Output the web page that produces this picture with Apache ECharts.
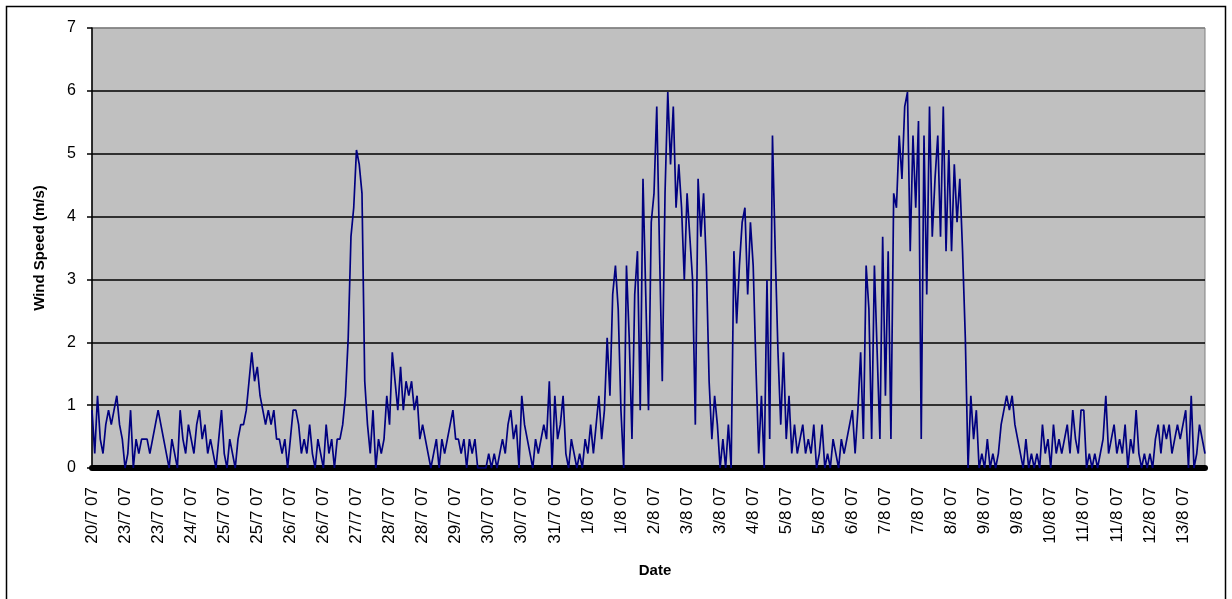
<!DOCTYPE html>
<html>
<head>
<meta charset="utf-8">
<script src="https://cdn.jsdelivr.net/npm/echarts@6/dist/echarts.min.js"></script>
<style>
html,body{margin:0;padding:0;background:#fff;}
#chart{width:1232px;height:599px;}
</style>
</head>
<body>
<div id="chart"></div>
<script>
// Tick labels shown on the category axis (one every 12 readings)
const tickLabels = ["20/7 07","23/7 07","23/7 07","24/7 07","25/7 07","25/7 07","26/7 07","26/7 07",
  "27/7 07","28/7 07","28/7 07","29/7 07","30/7 07","30/7 07","31/7 07","1/8 07","1/8 07","2/8 07",
  "3/8 07","3/8 07","4/8 07","5/8 07","5/8 07","6/8 07","7/8 07","7/8 07","8/8 07","9/8 07","9/8 07",
  "10/8 07","11/8 07","11/8 07","12/8 07","13/8 07"];
const readingsPerLabel = 12;

// Wind speed readings (m/s)
const windSpeed = [
 0.92,0.23,1.15,0.46,0.23,0.69,0.92,0.69,0.92,1.15,0.69,0.46,
 0,0.23,0.92,0,0.46,0.23,0.46,0.46,0.46,0.23,0.46,0.69,
 0.92,0.69,0.46,0.23,0,0.46,0.23,0,0.92,0.46,0.23,0.69,
 0.46,0.23,0.69,0.92,0.46,0.69,0.23,0.46,0.23,0,0.46,0.92,
 0.23,0,0.46,0.23,0,0.46,0.69,0.69,0.92,1.38,1.84,1.38,
 1.61,1.15,0.92,0.69,0.92,0.69,0.92,0.46,0.46,0.23,0.46,0,
 0.46,0.92,0.92,0.69,0.23,0.46,0.23,0.69,0.23,0,0.46,0.23,
 0,0.69,0.23,0.46,0,0.46,0.46,0.69,1.15,2.07,3.68,4.14,
 5.06,4.83,4.37,1.38,0.69,0.23,0.92,0,0.46,0.23,0.46,1.15,
 0.69,1.84,1.38,0.92,1.61,0.92,1.38,1.15,1.38,0.92,1.15,0.46,
 0.69,0.46,0.23,0,0.23,0.46,0,0.46,0.23,0.46,0.69,0.92,
 0.46,0.46,0.23,0.46,0,0.46,0.23,0.46,0,0,0,0,
 0.23,0,0.23,0,0.23,0.46,0.23,0.69,0.92,0.46,0.69,0,
 1.15,0.69,0.46,0.23,0,0.46,0.23,0.46,0.69,0.46,1.38,0,
 1.15,0.46,0.69,1.15,0.23,0,0.46,0.23,0,0.23,0,0.46,
 0.23,0.69,0.23,0.69,1.15,0.46,0.92,2.07,1.15,2.76,3.22,2.53,
 0.92,0,3.22,2.07,0.46,2.76,3.45,0.92,4.6,2.76,0.92,3.91,
 4.37,5.75,3.45,1.38,4.37,5.98,4.83,5.75,4.14,4.83,4.14,2.99,
 4.37,3.68,2.99,0.69,4.6,3.68,4.37,3.22,1.38,0.46,1.15,0.69,
 0,0.46,0,0.69,0,3.45,2.3,3.22,3.91,4.14,2.76,3.91,
 3.22,1.61,0.23,1.15,0,2.99,0.46,5.29,3.45,1.84,0.69,1.84,
 0.46,1.15,0.23,0.69,0.23,0.46,0.69,0.23,0.46,0.23,0.69,0,
 0.23,0.69,0,0.23,0,0.46,0.23,0,0.46,0.23,0.46,0.69,
 0.92,0.23,0.92,1.84,0.46,3.22,2.53,0.46,3.22,1.84,0.46,3.68,
 1.15,3.45,0.46,4.37,4.14,5.29,4.6,5.75,5.98,3.45,5.29,4.14,
 5.52,0.46,5.29,2.76,5.75,3.68,4.6,5.29,3.68,5.75,3.45,5.06,
 3.45,4.83,3.91,4.6,3.45,2.07,0,1.15,0.46,0.92,0,0.23,
 0,0.46,0,0.23,0,0.23,0.69,0.92,1.15,0.92,1.15,0.69,
 0.46,0.23,0,0.46,0,0.23,0,0.23,0,0.69,0.23,0.46,
 0,0.69,0.23,0.46,0.23,0.46,0.69,0.23,0.92,0.46,0.23,0.92,
 0.92,0,0.23,0,0.23,0,0.23,0.46,1.15,0.23,0.46,0.69,
 0.23,0.46,0.23,0.69,0,0.46,0.23,0.92,0.23,0,0.23,0,
 0.23,0,0.46,0.69,0.23,0.69,0.46,0.69,0.23,0.46,0.69,0.46,
 0.69,0.92,0,1.15,0,0.23,0.69,0.46,0.23
];

// Category for each reading: the date label of its block
const categories = windSpeed.map((v, i) => tickLabels[Math.floor(i / readingsPerLabel)]);

const yTicks = [0,1,2,3,4,5,6,7];

const chart = echarts.init(document.getElementById('chart'), null, {renderer: 'canvas'});
chart.setOption({
  animation: false,
  backgroundColor: '#ffffff',
  graphic: [
    { type: 'rect', shape: {x: 6.5, y: 6.5, width: 1219, height: 620},
      style: {fill: 'none', stroke: '#000', lineWidth: 1.5}, z: 0 },
    { type: 'text', x: 40, y: 248, rotation: Math.PI / 2,
      style: {text: 'Wind Speed (m/s)', font: 'bold 15px "Liberation Sans", Arial, sans-serif',
        fill: '#000', align: 'center', verticalAlign: 'middle'} },
    { type: 'text', x: 655, y: 571,
      style: {text: 'Date', font: 'bold 15px "Liberation Sans", Arial, sans-serif',
        fill: '#000', align: 'center', verticalAlign: 'middle'} }
  ],
  grid: {
    left: 92, top: 28, right: 27, bottom: 131,
    show: true, backgroundColor: '#C0C0C0', borderColor: '#808080', borderWidth: 1
  },
  xAxis: {
    type: 'category',
    data: categories,
    boundaryGap: false,
    offset: 3,
    axisLine: {show: true, lineStyle: {color: '#000', width: 6}},
    axisTick: {show: false},
    axisLabel: {
      interval: readingsPerLabel - 1,
      rotate: 90,
      margin: 16,
      color: '#000',
      fontSize: 17,
      fontFamily: '"Liberation Sans", Arial, sans-serif'
    },
    splitLine: {show: false}
  },
  yAxis: {
    type: 'value',
    min: yTicks[0], max: yTicks[yTicks.length - 1], interval: 1,
    axisLine: {show: true, lineStyle: {color: '#000', width: 1.5}},
    axisTick: {show: true, length: 5, lineStyle: {color: '#000', width: 1.5}},
    axisLabel: {
      margin: 16, color: '#000', fontSize: 16,
      fontFamily: '"Liberation Sans", Arial, sans-serif'
    },
    splitLine: {show: true, lineStyle: {
      color: ['#000','#000','#000','#000','#000','#000','#000','#808080'], width: 1.5}}
  },
  series: [{
    type: 'line',
    data: windSpeed,
    showSymbol: false,
    symbol: 'none',
    lineStyle: {color: '#000080', width: 1.7},
    z: 3
  }]
});
</script>
</body>
</html>
